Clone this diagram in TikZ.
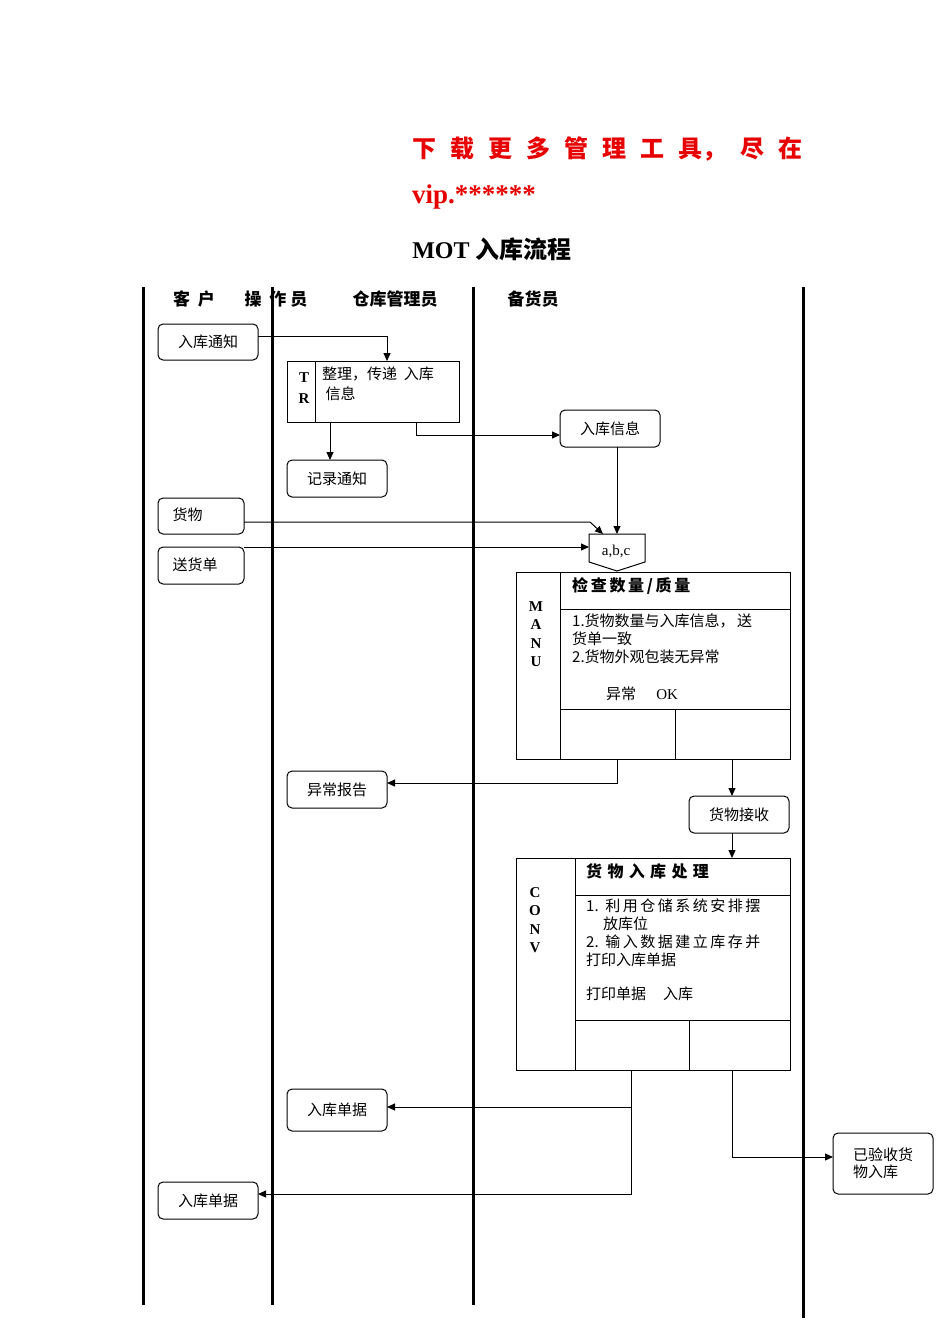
\documentclass[tikz,border=0pt]{standalone}
\usepackage{fontspec}
\setmainfont{Liberation Serif}
\newfontfamily\cjk{Noto Sans CJK SC}
\usetikzlibrary{arrows.meta}
\definecolor{redt}{RGB}{230,0,0}
\begin{document}
\begin{tikzpicture}[x=1pt,y=-1pt,
  rbox/.style={draw,rounded corners=5pt,line width=1pt,font=\cjk\fontsize{15}{17}\selectfont,align=left,inner sep=2pt},
  lane/.style={line width=3pt},
  ln/.style={line width=1pt},
  arr/.style={line width=1pt,-{Triangle[length=8pt,width=7pt]}},
  t/.style={font=\cjk\fontsize{15}{18}\selectfont,anchor=north west,align=left,inner sep=0pt}]
\useasboundingbox (0,0) rectangle (950,1344);
% lanes
\draw[lane] (143,287)--(143,1305);
\draw[lane] (272,287)--(272,1305);
\draw[lane] (473,287)--(473,1305);
\draw[lane] (803,287)--(803,1318);
% header texts
\node[font=\cjk\bfseries\fontsize{24}{26}\selectfont,text=redt,anchor=west,inner sep=0pt] (h1) at (412,149) {下\hspace{14pt}载\hspace{14pt}更\hspace{14pt}多\hspace{14pt}管\hspace{14pt}理\hspace{14pt}工\hspace{14pt}具，\hspace{14pt}尽\hspace{14pt}在};
\node[font=\bfseries\fontsize{27}{28}\selectfont,text=redt,anchor=west,inner sep=0pt] (h2) at (412,197) {vip.******};
\node[font=\bfseries\fontsize{24}{26}\selectfont,inner sep=0pt] (title) at (492,249) {MOT {\cjk 入库流程}};
\foreach \n/\x/\s in {l1/194/客\ \ 户, l2/276/操\ \ 作\ 员, l3/395/仓库管理员, l4/533/备货员}
  \node[font=\cjk\bfseries\fontsize{17}{19}\selectfont,inner sep=0pt] (\n) at (\x,299) {\s};
% rounded boxes
\newcommand\rb[6]{\draw[ln,rounded corners=5pt] (#2,#3) rectangle (#4,#5); \node[rbox,draw=none] (#1) at ({(#2+#4)/2},{(#3+#5)/2}) {#6};}
\rb{rk}{158}{324}{258}{360}{入库通知}
\rb{rkxx}{560}{410}{660}{447}{入库信息}
\rb{jl}{287}{460}{387}{497}{记录通知}
\node[rbox,draw=none,anchor=west] (hw) at (170,515) {货物}; \draw[ln,rounded corners=5pt] (158,498) rectangle (244,534);
\node[rbox,draw=none,anchor=west] (sh) at (170,565) {送货单}; \draw[ln,rounded corners=5pt] (158,547) rectangle (244,584);
\rb{yc}{287}{771}{387}{808}{异常报告}
\rb{js}{689}{796}{789}{833}{货物接收}
\rb{dj1}{287}{1089}{387}{1131}{入库单据}
\rb{ys}{833}{1133}{933}{1194}{已验收货\\物入库}
\rb{dj2}{158}{1182}{258}{1219}{入库单据}
% TR box
\draw[ln] (287,361) rectangle (459,422); \draw[ln] (315,361)--(315,422);
\node[font=\bfseries\fontsize{15}{21}\selectfont,align=center,inner sep=0pt] (tr) at (304,388) {T\\R};
\node[t,font=\cjk\fontsize{15}{20}\selectfont] (trt) at (322,367) {整理，传递\ \ 入库\\\ 信息};
% pentagon
\draw[ln] (589,534)--(645,534)--(645,562)--(617,571)--(589,562)--cycle;
\node[font=\fontsize{15}{17}\selectfont] (abc) at (616,551) {a,b,c};
% MANU
\draw[ln] (516,572) rectangle (790,759);
\draw[ln] (560,572)--(560,759); \draw[ln] (560,609)--(790,609); \draw[ln] (560,709)--(790,709); \draw[ln] (675,709)--(675,759);
\node[font=\bfseries\fontsize{15}{18.5}\selectfont,align=center,inner sep=0pt] (manu) at (536,634) {M\\A\\N\\U};
\node[t,font=\cjk\bfseries\fontsize{16}{18}\selectfont] (m1) at (572,577) {检\,查\,数\,量\,/\,质\,量};
\node[t,font=\cjk\fontsize{15}{18}\selectfont] (m2) at (572,614) {1.货物数量与入库信息，\,送\\货单一致\\2.货物外观包装无异常};
\node[t] (m3) at (606,687) {异常\ \ \ \ \ \ {\rmfamily OK}};
% CONV
\draw[ln] (516,858) rectangle (790,1070);
\draw[ln] (575,858)--(575,1070); \draw[ln] (575,895)--(790,895); \draw[ln] (575,1020)--(790,1020); \draw[ln] (689,1020)--(689,1070);
\node[font=\bfseries\fontsize{15}{18.5}\selectfont,align=center,inner sep=0pt] (conv) at (535,920) {C\\O\\N\\V};
\node[t,font=\cjk\bfseries\fontsize{16}{18}\selectfont] (c1) at (586,863) {货\,\,物\,\,入\,\,库\,\,处\,\,理};
\node[t,font=\cjk\fontsize{15}{18}\selectfont] (c2) at (586,899) {1.\ \ 利\,用\,仓\,储\,系\,统\,安\,排\,摆\\\ \ \ \ \ 放库位\\2.\ \ 输\,入\,数\,据\,建\,立\,库\,存\,并\\打印入库单据};
\node[t] (c3) at (586,987) {打印单据\ \ \ \ \ 入库};
% connectors
\coordinate (tA) at (387,361); \coordinate (tB) at (330,422); \coordinate (tC) at (416,422);
\draw[arr] (258,336)-|(tA);
\draw[arr] (tB)--(330,460);
\draw[arr] (tC)|-(560,435);
\draw[arr] (617,447)--(617,534);
\draw[arr] (244,522)--(590,522)--(603,534);
\draw[arr] (244,547)--(589,547);
\draw[arr] (617,759)|-(387,783);
\draw[arr] (732,759)--(732,796);
\draw[arr] (732,833)--(732,858);
\draw[arr] (631,1070)|-(387,1107);
\draw[arr] (631,1107)|-(258,1194);
\draw[arr] (732,1070)|-(833,1157);
\end{tikzpicture}
\end{document}
